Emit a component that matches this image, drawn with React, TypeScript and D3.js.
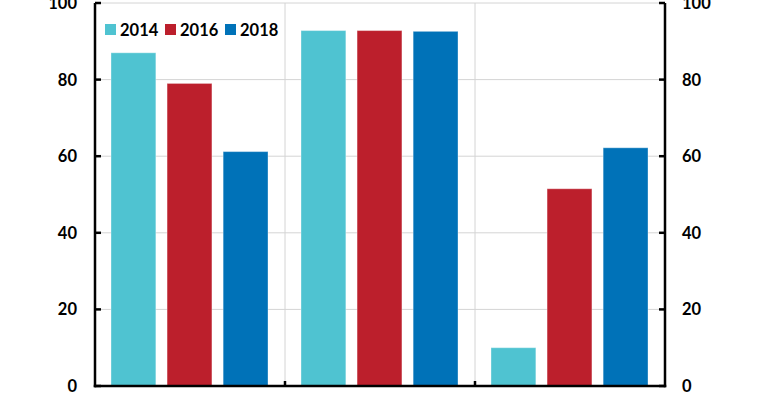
import * as d3 from 'd3';

const WIDTH = 783;
const HEIGHT = 402;
const MARGIN = { top: 3, right: 118, bottom: 16, left: 95 };

const categories = ['A', 'B', 'C'];
const years = ['2014', '2016', '2018'];
const colors = ['#4fc3d1', '#bc1f2c', '#0072b8'];
const values2014 = [87, 92.8, 10];
const values2016 = [79, 92.8, 51.5];
const values2018 = [61.2, 92.6, 62.2];
const yTicks = [0, 20, 40, 60, 80, 100];

const series = [values2014, values2016, values2018];

const App = () => {
  const boundsWidth = WIDTH - MARGIN.left - MARGIN.right;
  const boundsHeight = HEIGHT - MARGIN.top - MARGIN.bottom;

  const xScale = d3.scaleBand().domain(categories).range([0, boundsWidth]);
  const inner = d3
    .scaleBand()
    .domain(years)
    .range([16, xScale.bandwidth() - 17])
    .paddingInner(0.2);
  const yScale = d3.scaleLinear().domain([0, 100]).range([boundsHeight, 0]);

  const font = 'Lato, "Open Sans", sans-serif';

  return (
    <svg
      width={WIDTH}
      height={HEIGHT}
      style={{ position: 'absolute', left: 0, top: 0, background: '#fff' }}
    >
      <g transform={`translate(${MARGIN.left},${MARGIN.top})`}>
        {/* horizontal grid */}
        {yTicks.map((t) => (
          <line
            key={'h' + t}
            x1={0}
            x2={boundsWidth}
            y1={yScale(t)}
            y2={yScale(t)}
            stroke="#d4d4d4"
            strokeWidth={1}
          />
        ))}
        {/* category dividers */}
        {categories.slice(1).map((c) => {
          const x = xScale(c) ?? 0;
          return (
            <g key={'v' + c}>
              <line x1={x} x2={x} y1={0} y2={boundsHeight} stroke="#d4d4d4" strokeWidth={1} />
              <line x1={x} x2={x} y1={boundsHeight} y2={boundsHeight - 5} stroke="#000" strokeWidth={2.5} />
            </g>
          );
        })}
        {/* bars */}
        {categories.map((c, i) =>
          years.map((y, j) => {
            const v = series[j][i];
            return (
              <rect
                key={c + y}
                x={(xScale(c) ?? 0) + (inner(y) ?? 0)}
                y={yScale(v)}
                width={inner.bandwidth()}
                height={boundsHeight - yScale(v)}
                fill={colors[j]}
                stroke="#ffffff"
                strokeOpacity={0.35}
                strokeWidth={1}
              />
            );
          })
        )}
        {/* axes */}
        <line x1={0} x2={0} y1={0} y2={boundsHeight + 1.25} stroke="#000" strokeWidth={2.5} />
        <line x1={boundsWidth} x2={boundsWidth} y1={0} y2={boundsHeight + 1.25} stroke="#000" strokeWidth={2.5} />
        <line x1={-1.25} x2={boundsWidth + 1.25} y1={boundsHeight} y2={boundsHeight} stroke="#000" strokeWidth={2.5} />
        {yTicks.map((t) => (
          <g key={'t' + t}>
            <line x1={0} x2={6} y1={yScale(t)} y2={yScale(t)} stroke="#000" strokeWidth={2.5} />
            <line x1={boundsWidth - 6} x2={boundsWidth} y1={yScale(t)} y2={yScale(t)} stroke="#000" strokeWidth={2.5} />
            <text
              x={-18}
              y={yScale(t)}
              textAnchor="end"
              dominantBaseline="central"
              fontFamily={font}
              fontWeight="bold"
              fontSize={16.5}
            >
              {t}
            </text>
            <text
              x={boundsWidth + 17}
              y={yScale(t)}
              textAnchor="start"
              dominantBaseline="central"
              fontFamily={font}
              fontWeight="bold"
              fontSize={16.5}
            >
              {t}
            </text>
          </g>
        ))}
        {/* legend */}
        {years.map((y, j) => (
          <g key={'l' + y} transform={`translate(${10 + j * 60},21)`}>
            <rect x={0} y={0} width={11} height={11} fill={colors[j]} />
            <text
              x={15}
              y={6}
              dominantBaseline="central"
              fontFamily={font}
              fontWeight="bold"
              fontSize={16.5}
            >
              {y}
            </text>
          </g>
        ))}
      </g>
    </svg>
  );
};

export default App;
